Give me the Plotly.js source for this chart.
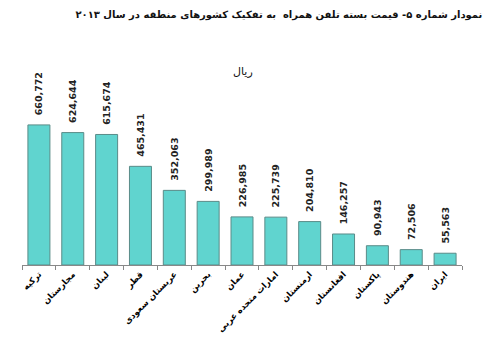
<!DOCTYPE html>
<html><head><meta charset="utf-8">
<script src="https://cdn.plot.ly/plotly-3.0.1.min.js"></script>
<style>body{margin:0;background:#fff}</style>
</head><body><div id="chart" style="width:491px;height:339px"></div>
<script>
const countries = ["ترکیه","مجارستان","لبنان","قطر","عربستان سعودی","بحرین","عمان","امارات متحده عربی","ارمنستان","افغانستان","پاکستان","هندوستان","ایران"];
const prices = [660772,624644,615674,465431,352063,299989,226985,225739,204810,146257,90943,72506,55563];
const chartTitle = "نمودار شماره ۵- قیمت بسته تلفن همراه  به تفکیک کشورهای منطقه در سال ۲۰۱۳";
const unitLabel = "ریال";

const trace = {
  type: "bar",
  x: countries,
  y: prices,
  marker: {color: "#60d4cf", line: {color: "#5a8b88", width: 1}},
  texttemplate: "\u00a0\u00a0%{y:,}",
  textposition: "outside",
  textangle: -90,
  constraintext: "none",
  cliponaxis: false,
  textfont: {family: "DejaVu Sans", size: 9.5, color: "#222", weight: "bold"},
  hoverinfo: "none"
};
const layout = {
  width: 491, height: 339,
  margin: {l: 22, r: 29, t: 106, b: 74},
  paper_bgcolor: "#fff", plot_bgcolor: "#fff",
  bargap: 0.35,
  showlegend: false,
  title: {text: chartTitle, x: 0.568, xanchor: "center", xref: "container", y: 0.958, yanchor: "middle", yref: "container",
          font: {family: "DejaVu Sans", size: 10, color: "#111", weight: "bold"}},
  xaxis: {type: "category", showline: true, linecolor: "#888", linewidth: 1, ticks: "outside", tickson: "boundaries",
          ticklen: 4, tickcolor: "#888", tickangle: -45, showgrid: false,
          tickfont: {family: "DejaVu Sans", size: 8.5, color: "#000", weight: "bold"}},
  yaxis: {range: [0, 750000], visible: false, showgrid: false, zeroline: false},
  annotations: [{text: unitLabel, xref: "paper", yref: "paper", x: 0.502, y: 1.214, xanchor: "center", yanchor: "middle", showarrow: false,
                 font: {family: "DejaVu Sans", size: 11, color: "#111"}}]
};
Plotly.newPlot("chart", [trace], layout, {displayModeBar: false, staticPlot: true});
</script></body></html>
